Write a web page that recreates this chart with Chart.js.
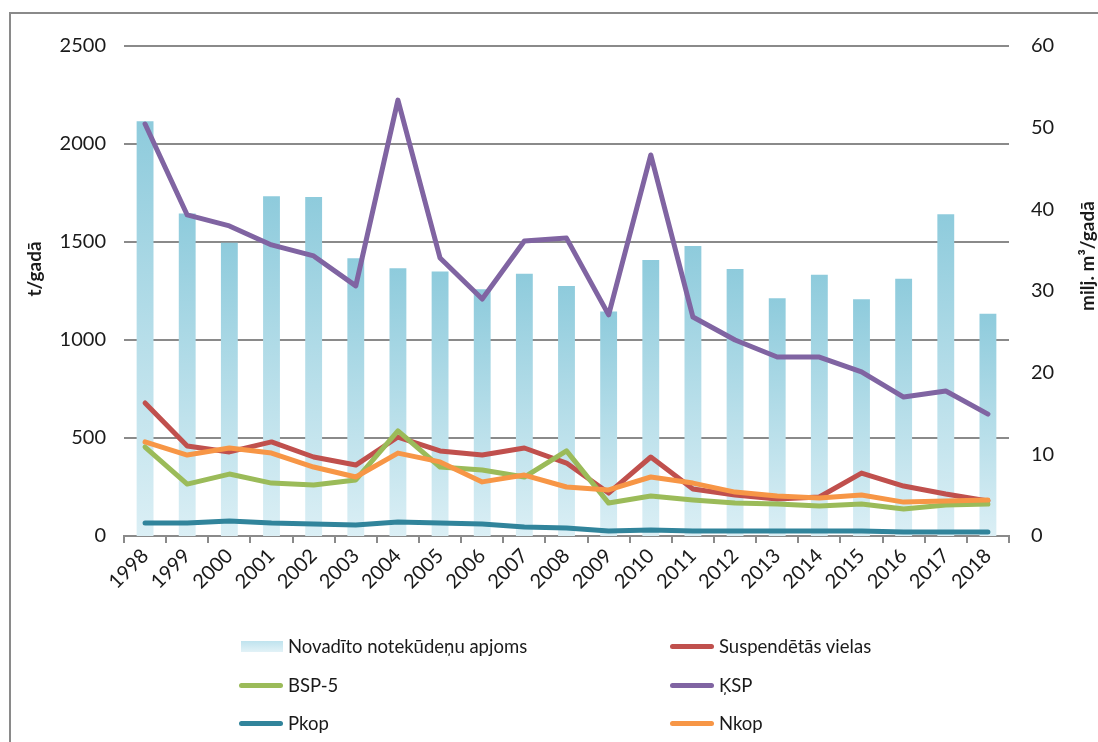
<!DOCTYPE html>
<html>
<head>
<meta charset="utf-8">
<script src="https://cdn.jsdelivr.net/npm/chart.js@4.4.0/dist/chart.umd.min.js"></script>
<style>
  html, body { margin: 0; padding: 0; background: #fff; }
  #wrap { position: relative; width: 1098px; height: 742px; overflow: hidden; }
  #legend { position: absolute; left: 0; top: 0; width: 1098px; height: 742px; pointer-events: none;
            font-family: Lato, "Open Sans", sans-serif; font-size: 18.5px; color: #1a1a1a; }
  .item { position: absolute; display: flex; align-items: center; white-space: nowrap; }
  .sym { width: 44px; height: 5px; border-radius: 3px; margin-right: 5px; }
  .sym.bar { height: 11px; border-radius: 0; width: 42px; margin-right: 5px; }
</style>
</head>
<body>
<div id="wrap">
  <canvas id="chart" width="1098" height="742"></canvas>
  <div id="legend"></div>
</div>
<script>
const years = ['1998','1999','2000','2001','2002','2003','2004','2005','2006','2007','2008',
               '2009','2010','2011','2012','2013','2014','2015','2016','2017','2018'];
// milj. m3/gadā (right axis)
const volume = [50.8, 39.5, 35.9, 41.6, 41.5, 34.0, 32.8, 32.4, 30.2, 32.1, 30.6,
                27.5, 33.8, 35.5, 32.7, 29.1, 32.0, 29.0, 31.5, 39.4, 27.2];
// t/gadā (left axis)
const susp = [679, 459, 429, 480, 403, 362, 505, 434, 413, 449, 372,
              219, 403, 240, 209, 189, 199, 321, 255, 214, 179];
const bsp = [454, 265, 316, 270, 260, 286, 536, 352, 337, 301, 434,
             168, 204, 184, 168, 163, 153, 163, 138, 158, 163];
const ksp = [2102, 1638, 1582, 1485, 1429, 1276, 2224, 1418, 1209, 1505, 1520,
             1128, 1944, 1117, 1000, 913, 913, 837, 709, 740, 622];
const pkop = [66, 66, 77, 66, 61, 56, 71, 66, 61, 46, 41,
              26, 31, 26, 26, 26, 26, 26, 20, 20, 20];
const nkop = [480, 413, 449, 423, 352, 301, 423, 378, 276, 311, 250,
              235, 301, 270, 224, 204, 194, 209, 173, 179, 184];

const leftTicks = [0, 500, 1000, 1500, 2000, 2500];
const rightTicks = [0, 10, 20, 30, 40, 50, 60];

const FONT = 'Lato, "Open Sans", sans-serif';
const GRID = '#8a8a8a';
const TXT = '#1a1a1a';

function barFill(c) {
  const chart = c.chart;
  if (!chart.chartArea || c.type !== 'data') return '#a9d9e7';
  const ys = chart.scales.y2;
  const top = ys.getPixelForValue(c.raw);
  const bottom = ys.getPixelForValue(0);
  const g = chart.ctx.createLinearGradient(0, top, 0, bottom);
  g.addColorStop(0, '#8ecbdc');
  g.addColorStop(1, '#dbeff5');
  return g;
}

function line(label, data, color, order) {
  return {
    type: 'line', label, data, yAxisID: 'y', order,
    borderColor: color, backgroundColor: color, borderWidth: 5,
    pointRadius: 0, tension: 0, borderJoinStyle: 'round', borderCapStyle: 'round'
  };
}

function vText(ctx, text, x, y) {
  ctx.save();
  ctx.translate(x, y);
  ctx.rotate(-Math.PI / 2);
  ctx.font = 'bold 19px ' + FONT;
  ctx.fillStyle = TXT;
  ctx.textAlign = 'center';
  ctx.textBaseline = 'middle';
  ctx.fillText(text, 0, 0);
  ctx.restore();
}

// outer frame and both axis titles (both read bottom to top)
const framePlugin = {
  id: 'frame',
  beforeDraw(chart) {
    const ctx = chart.ctx;
    ctx.save();
    ctx.strokeStyle = '#8a8a8a';
    ctx.lineWidth = 2;
    ctx.strokeRect(10, 13, 1300, 900);
    ctx.restore();
  },
  afterDraw(chart) {
    vText(chart.ctx, 't/gad\u0101', 35, 269);
    vText(chart.ctx, 'milj. m\u00b3/gad\u0101', 1088, 256);
  }
};

const tickFont = { family: FONT, size: 20 };

const chart = new Chart(document.getElementById('chart'), {
  data: {
    labels: years,
    datasets: [
      { type: 'bar', label: 'Novadīto notekūdeņu apjoms', data: volume, yAxisID: 'y2', order: 10,
        backgroundColor: barFill, categoryPercentage: 1, barPercentage: 0.4 },
      line('Suspendētās vielas', susp, '#c0504d', 5),
      line('BSP-5', bsp, '#9bbb59', 4),
      line('ĶSP', ksp, '#8064a2', 3),
      line('Pkop', pkop, '#31849b', 2),
      line('Nkop', nkop, '#f79646', 1)
    ]
  },
  options: {
    responsive: false,
    animation: false,
    layout: { padding: { top: 46, left: 0, right: 0, bottom: 0 } },
    plugins: { legend: { display: false }, tooltip: { enabled: false } },
    scales: {
      x: {
        offset: true,
        grid: { offset: true, drawOnChartArea: false, drawTicks: true, tickLength: 7, color: GRID, lineWidth: 2 },
        border: { color: GRID, width: 2 },
        ticks: { minRotation: 45, maxRotation: 45, padding: 1, color: TXT, font: tickFont },
        afterFit(s) { s.height = 206; }
      },
      y: {
        position: 'left', min: 0, max: 2500,
        afterBuildTicks(s) { s.ticks = leftTicks.map(v => ({ value: v })); },
        grid: { color: GRID, lineWidth: 2, drawTicks: false },
        border: { display: false },
        ticks: { padding: 18, color: TXT, font: tickFont, callback: v => String(v) },
        afterFit(s) { s.width = 124; }
      },
      y2: {
        position: 'right', min: 0, max: 60,
        afterBuildTicks(s) { s.ticks = rightTicks.map(v => ({ value: v })); },
        grid: { display: false, drawTicks: false },
        border: { display: false },
        ticks: { padding: 22, color: TXT, font: tickFont, callback: v => String(v) },
        afterFit(s) { s.width = 89; }
      }
    }
  },
  plugins: [framePlugin]
});

// legend in two columns, three rows
const legendPos = [
  [241, 646], [670, 646],
  [239, 685], [670, 685],
  [239, 723], [670, 723]
];
const legendEl = document.getElementById('legend');
chart.data.datasets.forEach((ds, i) => {
  const item = document.createElement('div');
  item.className = 'item';
  item.style.left = legendPos[i][0] + 'px';
  item.style.top = (legendPos[i][1] - 12) + 'px';
  item.style.height = '24px';
  const sym = document.createElement('span');
  if (ds.type === 'bar') {
    sym.className = 'sym bar';
    sym.style.background = 'linear-gradient(#bfe3ee, #e2f2f7)';
  } else {
    sym.className = 'sym';
    sym.style.background = ds.borderColor;
  }
  const txt = document.createElement('span');
  txt.textContent = ds.label;
  item.appendChild(sym);
  item.appendChild(txt);
  legendEl.appendChild(item);
});
</script>
</body>
</html>
